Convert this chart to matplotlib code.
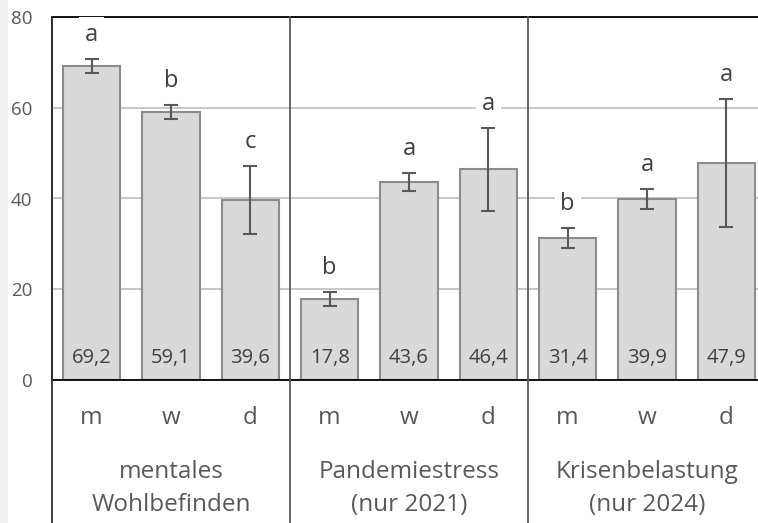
import matplotlib
matplotlib.use("Agg")
import matplotlib.pyplot as plt
from matplotlib.patches import Rectangle
from matplotlib.lines import Line2D

plt.rcParams['font.family'] = ['Open Sans', 'DejaVu Sans']

groups = ["mentales\nWohlbefinden", "Pandemiestress\n(nur 2021)", "Krisenbelastung\n(nur 2024)"]
genders = ["m", "w", "d"]
means = [69.2, 59.1, 39.6, 17.8, 43.6, 46.4, 31.4, 39.9, 47.9]
errors = [1.5, 1.5, 7.5, 1.5, 2.0, 9.2, 2.2, 2.3, 14.1]
value_labels = ["69,2", "59,1", "39,6", "17,8", "43,6", "46,4", "31,4", "39,9", "47,9"]
letters = ["a", "b", "c", "b", "a", "a", "b", "a", "a"]
yticks = [0, 20, 40, 60, 80]

W, H = 758, 523
fig = plt.figure(figsize=(W / 100, H / 100), dpi=100)
fig.patches.append(Rectangle((0, 0), 8 / W, 1, transform=fig.transFigure,
                             facecolor="#f0f0f0", edgecolor="none", zorder=0))

ax_left, ax_right, ax_top, ax_bot = 52, 766, 17, 380
ax = fig.add_axes([ax_left / W, 1 - ax_bot / H, (ax_right - ax_left) / W, (ax_bot - ax_top) / H])

x = list(range(len(means)))
ax.bar(x, means, width=0.72, color="#d9d9d9", edgecolor="#8c8c8c", linewidth=1.5, zorder=2)
ax.errorbar(x, means, yerr=errors, fmt="none", ecolor="#595959", elinewidth=1.5,
            capsize=5, capthick=1.5, zorder=3)

ax.set_xlim(-0.5, len(means) - 0.5)
ax.set_ylim(0, 80)
ax.set_yticks(yticks)
ax.set_yticklabels([str(t) for t in yticks])
ax.tick_params(axis="y", length=0, pad=14, labelsize=13.5, labelcolor="#595959")
ax.set_xticks([])
ax.grid(axis="y", color="#bdbdbd", linewidth=1.2, zorder=0)
ax.set_axisbelow(True)

ax.spines["right"].set_visible(False)
ax.spines["top"].set_color("black")
ax.spines["top"].set_linewidth(1.3)
ax.spines["bottom"].set_color("black")
ax.spines["bottom"].set_linewidth(1.3)
ax.spines["left"].set_color("#303030")
ax.spines["left"].set_linewidth(1.3)

trans = ax.get_xaxis_transform()
# vertical separators, extending below the axis
for xv, col in [(-0.5, "#303030"), (2.5, "#595959"), (5.5, "#595959")]:
    ax.add_line(Line2D([xv, xv], [1, -0.45], transform=trans, color=col,
                       linewidth=1.3, clip_on=False, zorder=4))

px = 72 / 100  # points per pixel
for i in x:
    ax.annotate(value_labels[i], (i, 0), xytext=(0, 17 * px), textcoords="offset points",
                ha="center", va="baseline", fontsize=14.5, color="#404040", zorder=5)
    ax.annotate(letters[i], (i, means[i] + errors[i]), xytext=(0, 18 * px),
                textcoords="offset points", ha="center", va="baseline",
                fontsize=17, color="#404040", zorder=6, annotation_clip=False,
                bbox=dict(boxstyle="square,pad=0.25", facecolor="white", edgecolor="none"))

# category labels
for i in x:
    ax.text(i, -(424 - ax_bot) / (ax_bot - ax_top), genders[i % 3], transform=trans,
            ha="center", va="baseline", fontsize=17.5, color="#595959")
for g, name in enumerate(groups):
    l1, l2 = name.split("\n")
    xc = g * 3 + 1
    ax.text(xc, -(478 - ax_bot) / (ax_bot - ax_top), l1, transform=trans,
            ha="center", va="baseline", fontsize=17.5, color="#595959")
    ax.text(xc, -(511 - ax_bot) / (ax_bot - ax_top), l2, transform=trans,
            ha="center", va="baseline", fontsize=17.5, color="#595959")

fig.savefig("out.png", dpi=100)
